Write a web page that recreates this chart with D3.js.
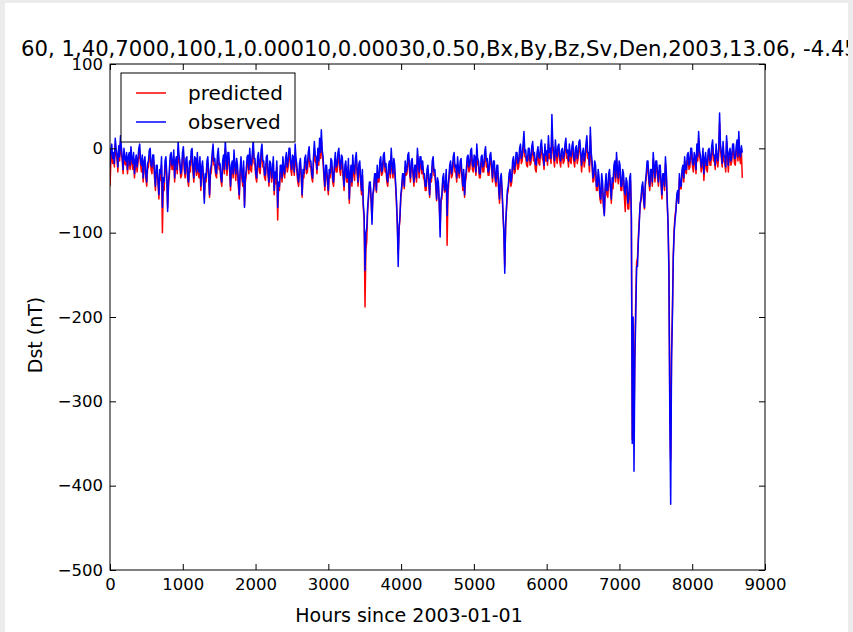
<!DOCTYPE html>
<html>
<head>
<meta charset="utf-8">
<script src="https://cdn.jsdelivr.net/npm/d3@7"></script>
<style>
  html, body { margin: 0; padding: 0; background: #ececec; }
  svg { display: block; }
  text { font-family: "DejaVu Sans", sans-serif; fill: #000; }
</style>
</head>
<body>
<svg id="chart" width="853" height="632"></svg>
<script>
// ---- data (12-hourly samples of Dst, hours since 2003-01-01) ----
const titleText = "60, 1,40,7000,100,1,0.00010,0.00030,0.50,Bx,By,Bz,Sv,Den,2003,13.06, -4.45";
const xTicks = [0, 1000, 2000, 3000, 4000, 5000, 6000, 7000, 8000, 9000];
const yTicks = [100, 0, -100, -200, -300, -400, -500];
const stepHours = 12;

const observed = [
  -20,-2,5,-12,-5,-18,12,0,-8,-22,3,-10,15,2,-10,-25,0,-12,-15,-5,
  -25,-10,-5,-20,2,-12,-18,-5,-30,-15,-8,-22,-12,0,5,-15,-20,-8,-35,-15,
  -10,-30,-40,-18,-15,-2,0,-20,-22,-8,-8,-30,-45,-20,-20,-38,-55,-25,-30,-10,
  -70,-35,-40,-15,-10,-30,-75,-40,-25,-8,-5,-20,-18,-2,-35,-15,-10,-25,8,-8,
  -15,-30,-25,-5,2,-18,-30,-12,-10,-35,-40,-15,-20,-2,0,-22,-35,-10,-12,-28,
  -5,-25,-28,-10,-45,-22,-15,-35,-65,-30,-35,-15,-10,-30,-55,-25,-20,-5,5,-15,
  -12,-28,-30,-8,0,-20,-18,-35,-40,-15,-8,-25,10,-10,-25,-5,-5,-22,-45,-20,
  -15,-30,-2,-20,-30,-12,-20,-40,-55,-25,-10,-30,-40,-15,-70,-35,-25,-10,-8,-25,
  0,-18,-20,-5,10,-12,-12,-30,-35,-10,-5,-22,-22,-2,5,-15,-15,-32,-30,-10,
  -8,-28,-40,-15,-18,-35,-25,-10,-50,-28,-35,-15,-70,-40,-45,-20,-20,-35,-10,-25,
  -30,-12,-5,-22,-15,0,0,-18,-25,-8,-10,-28,5,-12,-20,-35,-40,-18,-12,-30,
  -55,-25,-30,-12,-8,-25,-20,-5,2,-15,-15,-30,-35,-10,8,-8,-10,-25,0,-15,
  12,-5,22,-2,-10,-30,-45,-20,-20,-38,-50,-25,-30,-12,-15,-35,-40,-18,-5,-22,
  -20,-5,0,-18,-25,-8,-10,-30,-45,-20,-15,-35,-35,-12,-60,-30,-20,-40,-8,-25,
  -30,-12,-5,-25,-40,-18,-15,-35,-50,-25,-65,-80,-145,-100,-95,-70,-55,-40,-40,-60,
  -90,-55,-45,-30,-30,-50,-20,-35,-35,-15,-10,-28,-25,-8,-5,-22,-18,-35,-40,-20,
  -15,-30,0,-18,-30,-12,-20,-40,-60,-90,-140,-95,-80,-55,-45,-30,-30,-45,-15,-28,
  -25,-8,-5,-22,-35,-15,-12,-28,-40,-20,-20,-35,0,-15,-28,-10,-10,-25,-15,-30,
  -30,-45,-45,-25,-20,-38,-55,-30,-35,-15,-10,-28,-25,-40,-60,-35,-40,-65,-105,-60,
  -55,-35,-30,-50,-45,-25,-80,-45,-35,-20,-15,-30,-25,-10,-5,-22,-20,-35,-10,-25,
  -30,-15,-12,-30,-45,-25,-55,-35,-25,-10,-8,-22,-18,-2,0,-20,-22,-8,-10,-28,
  5,-12,-15,-30,-30,-10,-8,-22,-20,-5,2,-15,-12,-28,-25,-8,-5,-20,-35,-15,
  -15,-32,-40,-20,-20,-45,-60,-35,-30,-50,-75,-100,-148,-90,-70,-50,-45,-30,-25,-40,
  -35,-15,-10,-25,-20,-5,-5,-18,-15,0,5,-12,-8,5,20,-5,-2,-15,-15,0,
  0,-15,-10,3,8,-8,-5,-18,-20,-5,2,-10,-12,3,10,-5,-8,-20,5,-8,
  -3,-15,15,-5,0,-12,40,5,-5,-15,10,-5,-10,3,5,-10,-15,-2,0,-12,
  -8,5,12,-5,-2,-15,5,-8,-10,3,8,-10,-15,0,3,-12,-5,8,10,-5,
  -20,-5,0,-15,-8,5,15,-5,-5,-20,25,-5,-15,-35,-30,-15,-20,-45,-45,-25,
  -35,-55,-60,-30,-40,-65,-80,-45,-30,-50,-50,-30,-25,-45,-60,-35,-40,-20,-15,-35,
  -5,-25,-35,-15,-20,-45,-45,-25,-30,-50,-55,-35,-40,-65,-60,-35,-30,-80,-350,-200,
  -383,-250,-200,-140,-140,-110,-90,-65,-60,-45,-40,-60,-70,-40,-30,-15,-15,-35,-45,-25,
  -25,-40,-5,-20,-35,-15,-15,-30,-40,-20,-20,-40,-55,-30,-30,-45,-10,-28,-60,-90,
  -150,-320,-422,-250,-200,-130,-100,-85,-75,-55,-50,-65,-30,-45,-45,-25,-20,-35,-10,-25,
  -25,-8,-5,-20,-15,0,0,-18,-20,-5,-10,-25,5,-10,20,-2,-8,-22,-15,0,
  -30,-12,-5,-20,-20,-2,0,-15,-12,3,10,-8,-8,-20,5,-10,-15,0,42,5,
  -5,-18,8,-8,-10,-22,15,-2,-20,-5,0,-15,-8,5,5,-12,-12,2,10,-10,
  20,-5,-10,3,-5
];

const predicted = [
  -45,-15,-5,-18,-10,-22,5,-8,-12,-28,-2,-15,8,-5,-15,-30,-5,-18,-20,-12,
  -30,-18,-12,-25,-5,-18,-25,-12,-35,-22,-15,-28,-18,-8,-2,-20,-28,-15,-40,-22,
  -18,-35,-45,-25,-22,-10,-8,-25,-30,-15,-15,-35,-50,-28,-28,-42,-60,-32,-38,-20,
  -100,-45,-50,-22,-20,-35,-70,-45,-32,-15,-12,-25,-25,-10,-40,-22,-18,-30,0,-15,
  -22,-35,-32,-12,-5,-25,-35,-20,-18,-38,-45,-22,-28,-10,-8,-28,-40,-18,-20,-32,
  -12,-30,-35,-18,-50,-28,-22,-40,-60,-35,-40,-22,-18,-35,-58,-32,-28,-12,-5,-20,
  -20,-32,-35,-15,-8,-25,-25,-38,-45,-22,-15,-30,0,-18,-32,-12,-12,-28,-50,-28,
  -22,-35,-10,-25,-38,-20,-28,-45,-60,-32,-18,-35,-45,-22,-68,-40,-32,-18,-15,-30,
  -8,-25,-28,-12,0,-18,-20,-35,-40,-18,-12,-28,-30,-10,-5,-22,-22,-35,-38,-18,
  -15,-32,-45,-22,-25,-40,-32,-18,-55,-35,-42,-22,-85,-45,-50,-28,-28,-40,-18,-30,
  -35,-20,-12,-28,-22,-8,-8,-25,-32,-15,-18,-32,-5,-18,-28,-40,-45,-25,-20,-35,
  -58,-32,-35,-20,-15,-30,-28,-12,-8,-22,-22,-35,-40,-18,0,-15,-18,-30,-8,-20,
  2,-12,10,-8,-18,-35,-50,-28,-28,-42,-55,-32,-35,-20,-22,-40,-45,-25,-12,-28,
  -28,-12,-8,-25,-32,-15,-18,-35,-50,-28,-22,-40,-40,-20,-65,-35,-28,-45,-15,-30,
  -38,-20,-12,-30,-45,-25,-22,-40,-55,-32,-70,-85,-188,-120,-110,-75,-60,-45,-45,-62,
  -85,-55,-50,-35,-35,-52,-28,-40,-40,-22,-18,-32,-30,-15,-12,-28,-25,-40,-45,-28,
  -22,-35,-8,-25,-35,-20,-28,-45,-65,-90,-125,-95,-85,-58,-50,-35,-35,-48,-22,-32,
  -30,-15,-12,-28,-40,-22,-20,-32,-45,-28,-28,-40,-8,-22,-35,-18,-18,-30,-22,-35,
  -38,-50,-50,-30,-28,-42,-58,-35,-40,-22,-18,-32,-32,-45,-62,-40,-45,-65,-95,-62,
  -60,-40,-38,-52,-50,-30,-115,-55,-40,-25,-22,-35,-32,-18,-12,-28,-28,-40,-18,-30,
  -35,-22,-20,-35,-50,-30,-58,-40,-32,-18,-15,-28,-25,-10,-8,-25,-28,-15,-18,-32,
  -5,-18,-22,-35,-35,-18,-15,-28,-28,-12,-8,-22,-20,-32,-32,-15,-12,-25,-40,-22,
  -22,-38,-45,-28,-28,-50,-65,-40,-35,-55,-78,-100,-140,-95,-72,-55,-50,-35,-32,-45,
  -40,-22,-18,-30,-28,-12,-12,-25,-22,-8,-5,-18,-15,-2,8,-10,-10,-20,-22,-8,
  -8,-20,-18,-5,0,-15,-12,-25,-28,-12,-5,-18,-20,-5,2,-12,-15,-25,-2,-15,
  -10,-20,5,-12,-8,-18,25,-2,-12,-22,2,-10,-18,-5,-2,-15,-22,-8,-8,-18,
  -15,-2,5,-12,-10,-22,-2,-15,-18,-5,0,-15,-22,-8,-5,-18,-12,0,2,-12,
  -28,-12,-8,-22,-15,-2,8,-12,-12,-28,15,-12,-22,-40,-38,-22,-28,-50,-50,-32,
  -42,-60,-65,-38,-48,-70,-78,-50,-38,-55,-58,-38,-32,-50,-65,-42,-48,-28,-22,-40,
  -12,-30,-42,-22,-28,-50,-50,-32,-38,-58,-75,-45,-50,-72,-72,-45,-38,-85,-345,-210,
  -330,-240,-180,-135,-130,-105,-85,-68,-62,-50,-45,-62,-72,-45,-35,-22,-22,-40,-50,-32,
  -32,-45,-12,-25,-40,-22,-22,-35,-45,-28,-28,-45,-60,-35,-35,-50,-18,-32,-65,-90,
  -140,-300,-370,-240,-190,-125,-95,-80,-72,-58,-52,-65,-35,-48,-48,-30,-25,-40,-15,-28,
  -30,-15,-12,-25,-22,-8,-5,-22,-28,-12,-15,-30,-2,-15,12,-8,-15,-28,-22,-8,
  -38,-20,-12,-25,-28,-8,-8,-20,-20,-5,2,-15,-15,-25,-2,-15,-22,-8,30,-2,
  -12,-22,0,-15,-18,-28,8,-8,-28,-12,-8,-20,-15,-2,-2,-18,-20,-5,5,-15,
  10,-12,-18,-5,-35
];

// ---- layout ----
const svg = d3.select("#chart");
const m = { left: 110, right: 765, top: 64, bottom: 570 };

svg.append("rect").attr("x", 5).attr("y", 3).attr("width", 843).attr("height", 629).attr("fill", "#fff");

const defs = svg.append("defs");
defs.append("clipPath").attr("id", "fig").append("rect")
  .attr("x", 5).attr("y", 0).attr("width", 843).attr("height", 632);
defs.append("clipPath").attr("id", "plot").append("rect")
  .attr("x", m.left).attr("y", m.top).attr("width", m.right - m.left).attr("height", m.bottom - m.top);

const root = svg.append("g").attr("clip-path", "url(#fig)");

const x = d3.scaleLinear().domain([0, 9000]).range([m.left, m.right]);
const y = d3.scaleLinear().domain([-500, 100]).range([m.bottom, m.top]);

const line = d3.line().x((d, i) => x(i * stepHours)).y(d => y(d));
const plot = root.append("g").attr("clip-path", "url(#plot)");
plot.append("path").datum(predicted)
  .attr("d", line).attr("fill", "none").attr("stroke", "#ff0000").attr("stroke-width", 1.5).attr("stroke-linejoin", "round");
plot.append("path").datum(observed)
  .attr("d", line).attr("fill", "none").attr("stroke", "#0000ff").attr("stroke-width", 1.5).attr("stroke-linejoin", "round");

// axes (ticks inward on all sides)
const tickLen = 6;
const fmt = d => (d < 0 ? "\u2212" + Math.abs(d) : String(d));
const axB = d3.axisBottom(x).tickValues(xTicks).tickSizeInner(-tickLen).tickSizeOuter(0).tickPadding(8).tickFormat(fmt);
const axT = d3.axisTop(x).tickValues(xTicks).tickSizeInner(-tickLen).tickSizeOuter(0).tickFormat("");
const axL = d3.axisLeft(y).tickValues(yTicks).tickSizeInner(-tickLen).tickSizeOuter(0).tickPadding(7).tickFormat(fmt);
const axR = d3.axisRight(y).tickValues(yTicks).tickSizeInner(-tickLen).tickSizeOuter(0).tickFormat("");

function style(g) {
  g.select(".domain").remove();
  g.selectAll("line").attr("stroke", "#000").attr("stroke-width", 1);
  g.selectAll("text").attr("font-size", 16.5).attr("font-family", "DejaVu Sans").attr("fill", "#000");
}
root.append("g").attr("transform", `translate(0,${m.bottom})`).call(axB).call(style);
root.append("g").attr("transform", `translate(0,${m.top})`).call(axT).call(style);
root.append("g").attr("transform", `translate(${m.left},0)`).call(axL).call(style);
root.append("g").attr("transform", `translate(${m.right},0)`).call(axR).call(style);

root.append("rect").attr("x", m.left).attr("y", m.top)
  .attr("width", m.right - m.left).attr("height", m.bottom - m.top)
  .attr("fill", "none").attr("stroke", "#000").attr("stroke-width", 1);

// labels
root.append("text").attr("x", 409).attr("y", 622).attr("text-anchor", "middle")
  .attr("font-size", 19).text("Hours since 2003-01-01");
root.append("text").attr("transform", "translate(42,335) rotate(-90)").attr("text-anchor", "middle")
  .attr("font-size", 19).text("Dst (nT)");
root.append("text").attr("x", 21).attr("y", 56).attr("font-size", 21.2).text(titleText);

// legend
const lg = root.append("g");
lg.append("rect").attr("x", 121).attr("y", 73).attr("width", 174).attr("height", 69)
  .attr("fill", "#fff").attr("stroke", "#000").attr("stroke-width", 1);
const items = [["predicted", "#ff0000"], ["observed", "#0000ff"]];
items.forEach(([lab, col], i) => {
  const yy = 93 + i * 29;
  lg.append("line").attr("x1", 136).attr("x2", 166).attr("y1", yy).attr("y2", yy)
    .attr("stroke", col).attr("stroke-width", 1.5);
  lg.append("text").attr("x", 188).attr("y", yy + 7).attr("font-size", 20).text(lab);
});
</script>
</body>
</html>
